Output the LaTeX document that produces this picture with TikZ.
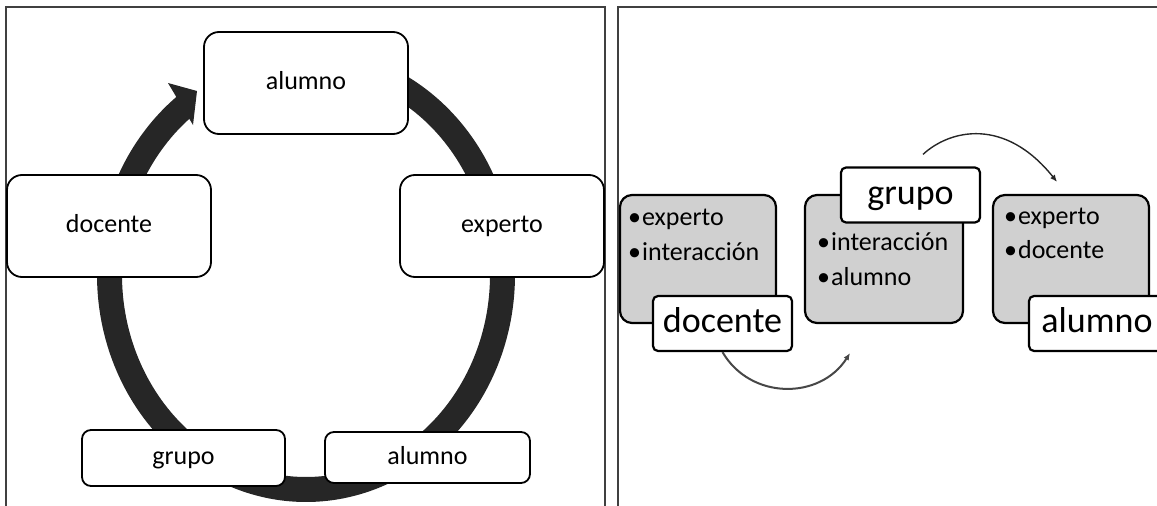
\documentclass[tikz,border=0pt]{standalone}
\usepackage{fontspec}
\setmainfont{Carlito}
\usetikzlibrary{calc,arrows.meta}
\definecolor{ringcol}{HTML}{262626}
\definecolor{boxgray}{HTML}{D0D0D0}
\definecolor{framecol}{HTML}{404040}
\begin{document}
\begin{tikzpicture}[x=1pt,y=-1pt,
  ringbox/.style={draw=black, line width=1.8pt, fill=white, rounded corners=15pt, inner sep=0pt,
    font=\fontsize{26}{31}\selectfont, text height=18pt, text depth=5pt,
    minimum width=204pt, minimum height=102pt},
  smallbox/.style={ringbox, rounded corners=9pt},
  graybox/.style={draw=black, line width=2.2pt, fill=boxgray, rounded corners=12pt, inner sep=0pt,
    minimum width=156pt, minimum height=128pt},
  tagbox/.style={draw=black, line width=2.2pt, fill=white, rounded corners=5pt, inner sep=0pt,
    font=\fontsize{36}{43}\selectfont, text height=25pt, text depth=7pt,
    minimum width=139pt, minimum height=55pt},
  bulletitem/.style={anchor=base west, inner sep=0pt, font=\fontsize{26}{31}\selectfont},
  framelines/.style={draw=framecol, line width=1.5pt},
  thinarrow/.style={line width=1.4pt, draw=black!85, -{Latex[length=7pt,width=6pt]}},
  grayarrow/.style={line width=2pt, draw=black!72, -{Latex[length=7pt,width=6pt]}}
]
\useasboundingbox (0,0) rectangle (1157,506);
\clip (0,0) rectangle (1157,506);

% panel frames
\draw[framelines] (6,506) -- (6,7) -- (605,7) -- (605,506);
\draw[framelines] (618,506) -- (618,7) -- (1157,7);

% ring with arrow head
\draw[ringcol, line width=25pt] plot[domain=-100:232, samples=300]
  ({306+196.5*cos(\x)},{275+214.5*sin(\x)});
\fill[ringcol] (168,83) -- (197,91) -- (193,125) -- cycle;

% left panel boxes
\node[ringbox] (alumnoA) at (306,83) {alumno};
\node[ringbox] (docenteA) at (109,226) {docente};
\node[ringbox] (expertoA) at (502,226) {experto};
\node[smallbox, minimum width=203pt, minimum height=56pt] (grupoA) at (183.5,458) {grupo};
\node[smallbox, minimum width=205pt, minimum height=51pt] (alumnoB) at (427.5,457.5) {alumno};

% right panel
\node[graybox] (g1) at (698,259) {};
\node[graybox, minimum width=158pt] (g2) at (884,259) {};
\node[graybox] (g3) at (1071,259) {};

\node[bulletitem] (b11) at (628,225) {•\hspace{1pt}experto};
\node[bulletitem] (b12) at (628,260) {•\hspace{1pt}interacción};
\node[bulletitem] (b21) at (817,250) {•\hspace{1pt}interacción};
\node[bulletitem] (b22) at (817,285) {•\hspace{1pt}alumno};
\node[bulletitem] (b31) at (1004,224) {•\hspace{1pt}experto};
\node[bulletitem] (b32) at (1004,258) {•\hspace{1pt}docente};

\node[tagbox] (docenteB) at (722.5,323.5) {docente};
\node[tagbox] (grupoB) at (910.5,195) {grupo};
\node[tagbox, minimum width=136pt] (alumnoC) at (1097,323.5) {alumno};

% connectors
\draw[thinarrow] ($(grupoB.north)+(12.5,-12)$) .. controls +(27,-25) and +(-52,-65) .. ($(g3.north)+(-14,-12)$);
\draw[grayarrow] (docenteB.south) .. controls +(28,48) and +(-30,47) .. ($(g2.south)+(-34,29)$);
\end{tikzpicture}
\end{document}
